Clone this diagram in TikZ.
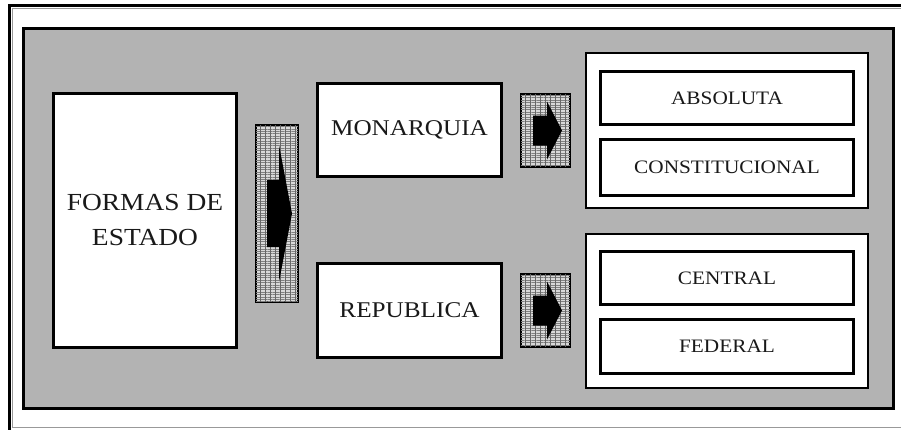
\documentclass[tikz,border=0pt]{standalone}
\usepackage{fontspec}
\setmainfont{Liberation Serif}[FakeStretch=1.12]
\usepackage{tikz}
\usetikzlibrary{patterns.meta}
\definecolor{panelgris}{RGB}{179,179,179}
\definecolor{bordegris}{RGB}{90,90,90}
\definecolor{texto}{RGB}{25,25,25}
\newcommand{\grande}{\fontsize{22.5}{35}\selectfont}
\newcommand{\chica}{\fontsize{19}{22}\selectfont}
\tikzset{
  % cuadro blanco con borde negro grueso y filete gris interior
  caja/.style={draw=black,line width=2.6pt,fill=white,inner sep=0pt,align=center,
               text=texto,font=\grande,
               append after command={\pgfextra{\draw[draw=gray!70,line width=0.9pt]
                 ([shift={(2.6,2.6)}]\tikzlastnode.north west) rectangle
                 ([shift={(-2.6,-2.6)}]\tikzlastnode.south east);}}},
  cajac/.style={caja,font=\chica,
               append after command={\pgfextra{\draw[draw=black,line width=0.8pt]
                 ([shift={(3.4,3.4)}]\tikzlastnode.north west) rectangle
                 ([shift={(-3.4,-3.4)}]\tikzlastnode.south east);}}},
  grupo/.style={draw=black,line width=2pt,fill=white,inner sep=0pt,
               append after command={\pgfextra{\draw[draw=black,line width=0.8pt]
                 ([shift={(3.2,3.2)}]\tikzlastnode.north west) rectangle
                 ([shift={(-3.2,-3.2)}]\tikzlastnode.south east);}}},
  panel/.style={draw=black,line width=3pt,fill=panelgris,inner sep=0pt,
               append after command={\pgfextra{\draw[draw=bordegris,line width=1.6pt]
                 ([shift={(2.3,2.3)}]\tikzlastnode.north west) rectangle
                 ([shift={(-2.3,-2.3)}]\tikzlastnode.south east);}}},
  trama/.style={draw=black,line width=2.4pt,fill=black!15,inner sep=0pt,
               postaction={pattern={Lines[angle=0,distance=2.4pt,line width=0.8pt]},
                           pattern color=black!50},
               postaction={pattern={Lines[angle=90,distance=5pt,line width=0.6pt]},
                           pattern color=black!60},
               append after command={\pgfextra{\draw[draw=bordegris,line width=1.4pt]
                 ([shift={(2,2)}]\tikzlastnode.north west) rectangle
                 ([shift={(-2,-2)}]\tikzlastnode.south east);}}},
}

\begin{document}
\begin{tikzpicture}[x=1pt,y=-1pt]
  \useasboundingbox (0,0) rectangle (901,429);
  \fill[white] (0,0) rectangle (901,429);

  % marco exterior: linea negra y filete gris
  \draw[black,line width=3pt] (9.5,5.5) rectangle (905,431);
  \draw[gray!80,line width=0.9pt] (12.8,8.8) rectangle (903,427.6);

  % fondo gris
  \node[panel,minimum width=870,minimum height=380] (fondo) at (458.5,218.5) {};

  % columna izquierda y central
  \node[caja,minimum width=183.4,minimum height=254.4,font=\fontsize{24.5}{35}\selectfont]
    (formas) at (145,220.5) {FORMAS DE\\ESTADO};
  \node[caja,minimum width=184.4,minimum height=93.4] (mon) at (409.5,130)
    {MONARQUIA};
  \node[caja,minimum width=184.4,minimum height=94.4] (rep) at (409.5,310.5)
    {REPUBLICA};

  % bloques de flecha
  \node[trama,minimum width=41.6,minimum height=176.6] (fl0) at (277,213.5) {};
  \node[trama,minimum width=48.6,minimum height=72.6] (fl1) at (545.5,130.5) {};
  \node[trama,minimum width=48.6,minimum height=72.6] (fl2) at (545.5,310.5) {};

  \fill[black,shift={(fl0.center)}] (-10,-33.5) -- (2,-33.5) -- (2,-68.5) -- (15,0)
    -- (2,68.5) -- (2,33.5) -- (-10,33.5) -- cycle;
  \foreach \f in {fl1,fl2}
    \fill[black,shift={(\f.center)}] (-12.5,-15) -- (1.5,-15) -- (1.5,-29) -- (16.5,0)
      -- (1.5,29) -- (1.5,15) -- (-12.5,15) -- cycle;

  % grupos de la derecha
  \node[grupo,minimum width=282,minimum height=155] (gmon) at (727,130.5) {};
  \node[grupo,minimum width=282,minimum height=154] (grep) at (727,311) {};

  \node[cajac,minimum width=253.4,minimum height=53.4] (abs) at (727,98) {ABSOLUTA};
  \node[cajac,minimum width=253.4,minimum height=56.4] (con) at (727,167.5) {CONSTITUCIONAL};
  \node[cajac,minimum width=253.4,minimum height=53.4] (cen) at (727,278) {CENTRAL};
  \node[cajac,minimum width=253.4,minimum height=54.4] (fed) at (727,346.5) {FEDERAL};
\end{tikzpicture}
\end{document}
